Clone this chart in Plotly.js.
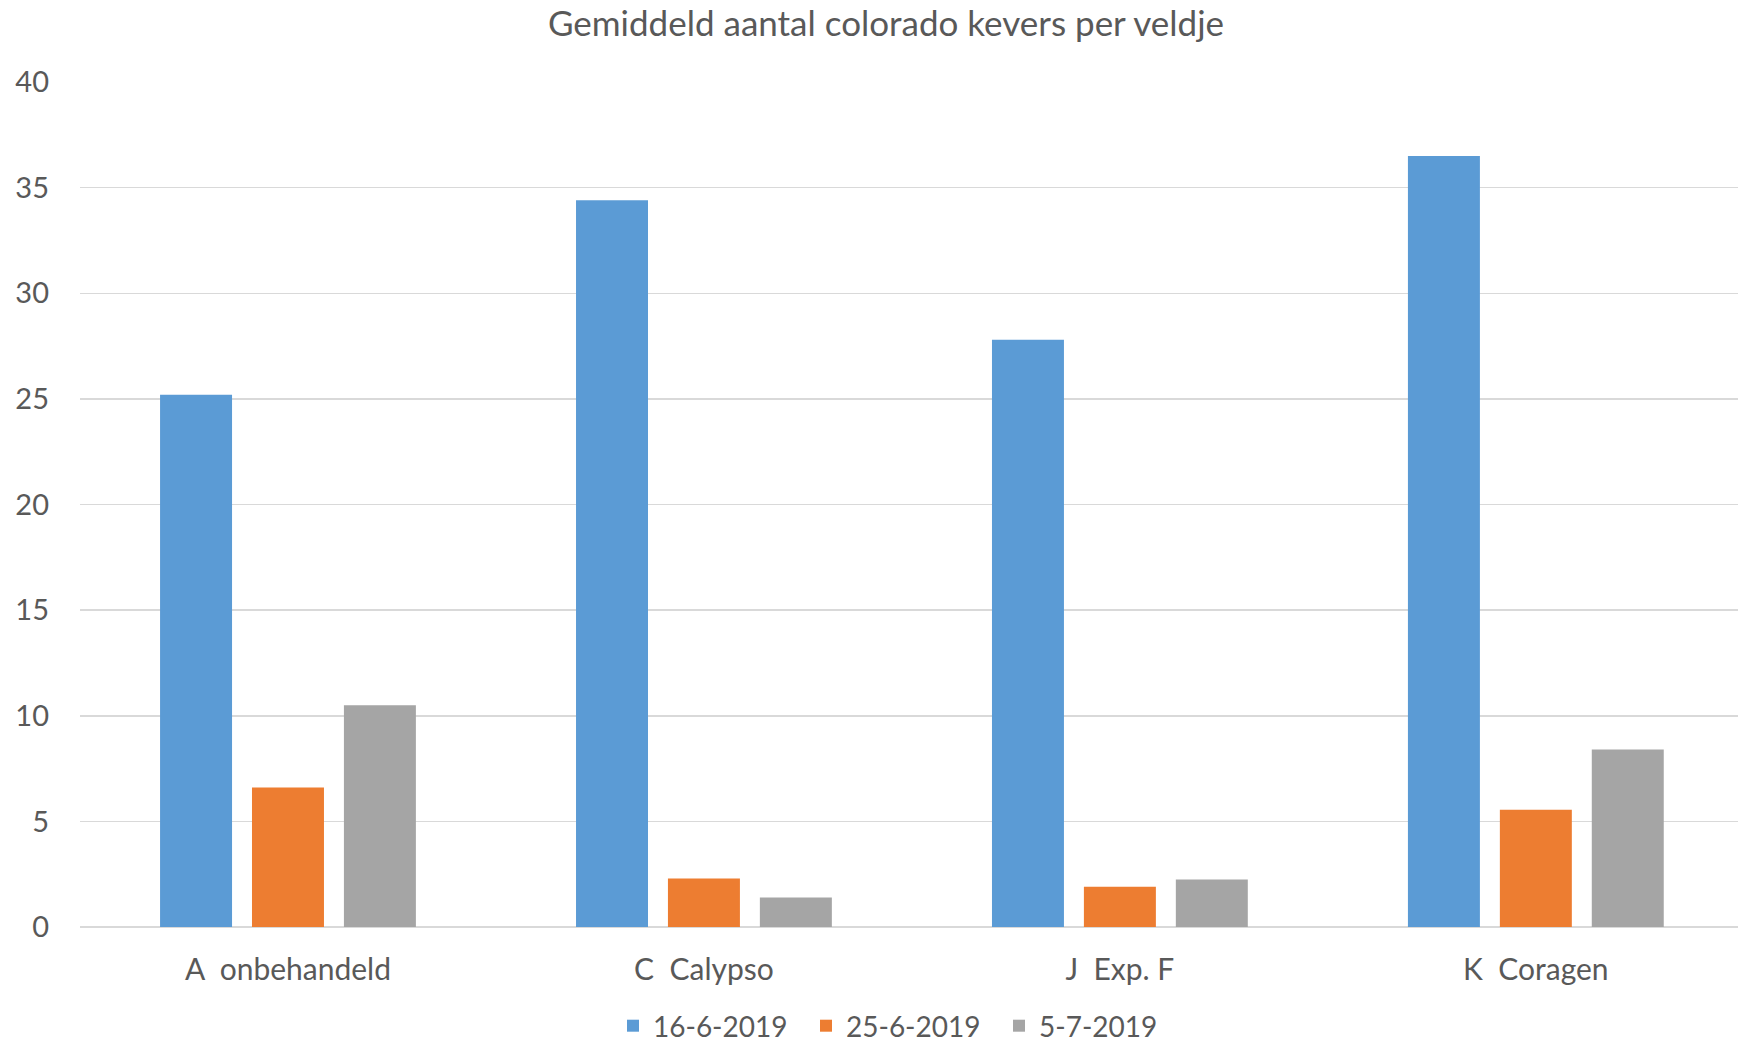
<!DOCTYPE html>
<html>
<head>
<meta charset="utf-8">
<script src="https://cdn.plot.ly/plotly-3.0.1.min.js"></script>
<style>
html,body{margin:0;padding:0;background:#fff;}
#chart{width:1738px;height:1046px;}
</style>
</head>
<body>
<div id="chart"></div>
<script>
const categories = ["A\u00a0\u00a0onbehandeld", "C\u00a0\u00a0Calypso", "J\u00a0\u00a0Exp. F", "K\u00a0\u00a0Coragen"];
const seriesNames = ["16-6-2019", "25-6-2019", "5-7-2019"];
const values_16_6 = [25.2, 34.4, 27.8, 36.5];
const values_25_6 = [6.6, 2.3, 1.9, 5.55];
const values_5_7 = [10.5, 1.4, 2.25, 8.4];
const yTicks = [0, 5, 10, 15, 20, 25, 30, 35, 40];

const colors = ["#5B9BD5", "#ED7D31", "#A5A5A5"];
const allValues = [values_16_6, values_25_6, values_5_7];
const font = "Lato, 'Open Sans', sans-serif";
const textColor = "#595959";

const data = allValues.map((v, i) => ({
  type: "bar",
  name: seriesNames[i],
  x: categories,
  y: v,
  marker: {color: colors[i], line: {width: 0}},
  hoverinfo: "x+y+name"
}));

const layout = {
  width: 1738,
  height: 1046,
  paper_bgcolor: "#ffffff",
  plot_bgcolor: "#ffffff",
  margin: {l: 80, r: 0, t: 82, b: 119, pad: 0},
  bargap: 0.337,
  bargroupgap: 0.217,
  font: {family: font, color: textColor, size: 28},
  title: {
    text: "Gemiddeld aantal colorado kevers per veldje",
    font: {family: font, size: 35, color: textColor},
    x: 886 / 1738,
    xanchor: "center",
    xref: "container",
    y: 1 - 24 / 1046,
    yanchor: "middle",
    yref: "container"
  },
  xaxis: {
    type: "category",
    range: [-0.5, 3.486],
    showgrid: false,
    showline: false,
    ticks: "",
    ticklabelstandoff: 22,
    tickfont: {family: font, size: 30, color: textColor},
    fixedrange: true
  },
  yaxis: {
    range: [0, 40],
    tickvals: yTicks,
    ticktext: yTicks.map(String),
    showgrid: true,
    gridcolor: "#D9D9D9",
    gridwidth: 1.5,
    zeroline: true,
    zerolinecolor: "#D9D9D9",
    zerolinewidth: 2.5,
    showline: false,
    ticks: "",
    ticklabelstandoff: 30,
    tickfont: {family: font, size: 29, color: textColor},
    fixedrange: true
  },
  showlegend: true,
  legend: {
    orientation: "h",
    xref: "container",
    yref: "container",
    x: 613 / 1738,
    xanchor: "left",
    y: 1 - 1026 / 1046,
    yanchor: "middle",
    entrywidth: 148,
    entrywidthmode: "pixels",
    font: {family: font, size: 28, color: textColor},
    bgcolor: "rgba(0,0,0,0)",
    traceorder: "normal"
  }
};

Plotly.newPlot("chart", data, layout, {displayModeBar: false, staticPlot: true});
</script>
</body>
</html>
